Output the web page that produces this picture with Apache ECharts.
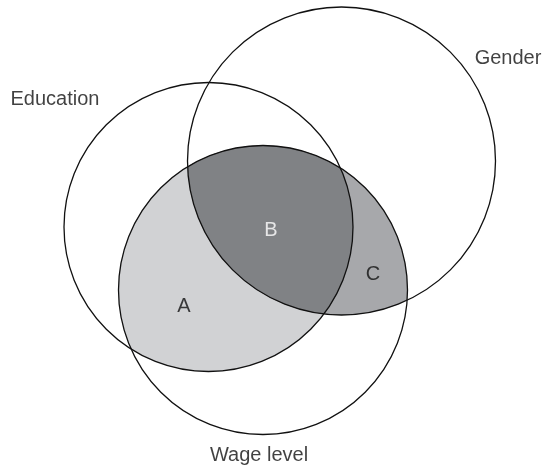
<!DOCTYPE html>
<html>
<head>
<meta charset="utf-8">
<script src="https://cdn.jsdelivr.net/npm/echarts@6/dist/echarts.min.js"></script>
<style>
  html, body { margin: 0; padding: 0; background: #fff; }
  #VennChart { width: 545px; height: 468px; }
</style>
</head>
<body>
<div id="VennChart"></div>
<script>
// Set circles (in picture units)
const setNames = ['Education', 'Gender', 'Wage level'];
const centerX = [208.5, 341.5, 263];
const centerY = [227, 161, 290];
const radius = [144.5, 154, 144.5];

// Set label anchors
const setLabelX = [55, 508, 259];
const setLabelY = [99, 58, 455];

// Shaded region letters
const regionNames = ['A', 'B', 'C'];
const regionX = [184, 271, 373];
const regionY = [306, 230, 274];

const INK = '#111111';

function circlePoly(i, n) {
  const pts = [];
  for (let k = 0; k < n; k++) {
    const t = (k / n) * Math.PI * 2;
    pts.push([centerX[i] + radius[i] * Math.cos(t), centerY[i] + radius[i] * Math.sin(t)]);
  }
  return pts;
}

// Sutherland-Hodgman, clip polygon must be convex and CCW
function clip(subject, clipPoly) {
  let out = subject;
  for (let i = 0; i < clipPoly.length; i++) {
    const a = clipPoly[i];
    const b = clipPoly[(i + 1) % clipPoly.length];
    const inside = p => (b[0] - a[0]) * (p[1] - a[1]) - (b[1] - a[1]) * (p[0] - a[0]) >= 0;
    const cross = (p, q) => {
      const x1 = p[0], y1 = p[1], x2 = q[0], y2 = q[1];
      const x3 = a[0], y3 = a[1], x4 = b[0], y4 = b[1];
      const d = (x1 - x2) * (y3 - y4) - (y1 - y2) * (x3 - x4);
      const t = ((x1 - x3) * (y3 - y4) - (y1 - y3) * (x3 - x4)) / d;
      return [x1 + t * (x2 - x1), y1 + t * (y2 - y1)];
    };
    const input = out;
    out = [];
    for (let j = 0; j < input.length; j++) {
      const cur = input[j];
      const prev = input[(j + input.length - 1) % input.length];
      if (inside(cur)) {
        if (!inside(prev)) out.push(cross(prev, cur));
        out.push(cur);
      } else if (inside(prev)) {
        out.push(cross(prev, cur));
      }
    }
    if (!out.length) break;
  }
  return out;
}

const edu = circlePoly(0, 360);
const gen = circlePoly(1, 360);
const wage = circlePoly(2, 360);

// layered fills: wage∩edu (light), wage∩gender (mid), all three (dark)
const wageEdu = clip(wage, edu);
const wageGen = clip(wage, gen);
const allThree = clip(wageEdu, gen);
const fillPolys = [wageEdu, wageGen, allThree];
const fillColors = ['#d1d2d4', '#a7a8ab', '#808285'];

const chart = echarts.init(document.getElementById('VennChart'));

const option = {
  animation: false,
  grid: { left: 0, right: 0, top: 0, bottom: 0 },
  xAxis: { type: 'value', min: 0, max: 545, show: false },
  yAxis: { type: 'value', min: 0, max: 468, inverse: true, show: false },
  series: [
    {
      type: 'custom',
      coordinateSystem: 'cartesian2d',
      data: fillPolys.map((p, i) => [i]),
      renderItem: function (params, api) {
        const i = api.value(0);
        return {
          type: 'polygon',
          shape: { points: fillPolys[i].map(p => api.coord(p)) },
          style: { fill: fillColors[i], stroke: null }
        };
      },
      z: 1
    },
    {
      type: 'custom',
      coordinateSystem: 'cartesian2d',
      data: setNames.map((n, i) => [centerX[i], centerY[i], radius[i]]),
      renderItem: function (params, api) {
        const c = api.coord([api.value(0), api.value(1)]);
        const r = api.size([api.value(2), api.value(2)])[0];
        return {
          type: 'circle',
          shape: { cx: c[0], cy: c[1], r: r },
          style: { fill: 'none', stroke: INK, lineWidth: 1.3 }
        };
      },
      z: 2
    },
    {
      type: 'scatter',
      symbolSize: 0,
      data: setNames.map((n, i) => ({ name: n, value: [setLabelX[i], setLabelY[i]] })),
      label: {
        show: true,
        position: 'inside',
        formatter: '{b}',
        color: INK,
        fontSize: 20,
        fontFamily: 'Liberation Sans, Arial, sans-serif'
      },
      z: 3
    },
    {
      type: 'scatter',
      symbolSize: 0,
      data: regionNames.map((n, i) => ({
        name: n,
        value: [regionX[i], regionY[i]],
        label: { color: n === 'B' ? '#ffffff' : INK }
      })),
      label: {
        show: true,
        position: 'inside',
        formatter: '{b}',
        fontSize: 20,
        fontFamily: 'Liberation Sans, Arial, sans-serif'
      },
      z: 3
    }
  ]
};

chart.setOption(option);
</script>
</body>
</html>
